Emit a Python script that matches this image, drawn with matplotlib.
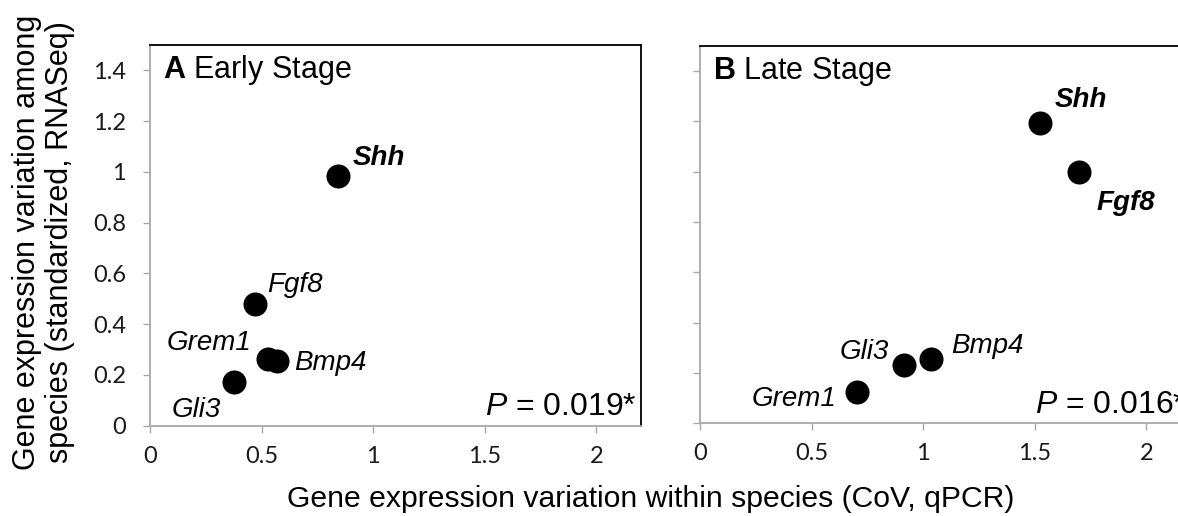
import matplotlib
matplotlib.use("Agg")
import matplotlib.pyplot as plt

# ---- data ----
genes_a = ["Shh", "Fgf8", "Grem1", "Bmp4", "Gli3"]
x_a = [0.843, 0.470, 0.530, 0.567, 0.378]
y_a = [0.982, 0.478, 0.263, 0.253, 0.174]
bold_a = [True, False, False, False, False]

genes_b = ["Shh", "Fgf8", "Grem1", "Gli3", "Bmp4"]
x_b = [1.523, 1.699, 0.704, 0.914, 1.037]
y_b = [1.195, 1.000, 0.126, 0.232, 0.254]
bold_b = [True, True, False, False, False]

xticks = [0, 0.5, 1, 1.5, 2]
xticklabels = ["0", "0.5", "1", "1.5", "2"]
yticks = [0, 0.2, 0.4, 0.6, 0.8, 1.0, 1.2, 1.4]
yticklabels = ["0", "0.2", "0.4", "0.6", "0.8", "1", "1.2", "1.4"]

titles = [("A", "Early Stage"), ("B", "Late Stage")]
pvals = ["0.019*", "0.016*"]

# label offsets in pixels (dx, dy, ha)
offs_a = {"Shh": (15, 11, "left"), "Fgf8": (12, 12, "left"),
          "Grem1": (-17, 9, "right"), "Bmp4": (18, -9, "left"),
          "Gli3": (-13, -35, "right")}
offs_b = {"Shh": (15, 16, "left"), "Fgf8": (17, -38, "left"),
          "Grem1": (-21, -14, "right"), "Gli3": (-15, 6, "right"),
          "Bmp4": (20, 6, "left")}

plt.rcParams["mathtext.fontset"] = "custom"
plt.rcParams["mathtext.rm"] = "Liberation Sans"
plt.rcParams["mathtext.it"] = "Liberation Sans:italic"
plt.rcParams["mathtext.bf"] = "Liberation Sans:bold"

W, H = 1178, 516
fig = plt.figure(figsize=(W / 100, H / 100), dpi=100)

axw = 491 / W
ax_a = fig.add_axes([150 / W, (H - 425.7) / H, axw, 380.7 / H])
ax_b = fig.add_axes([700 / W, (H - 423.3) / H, axw, 377.3 / H])

GREY = "#a8a8a8"
TXT = "Liberation Sans"

for i, (ax, genes, xs, ys, bolds, offs) in enumerate(
        [(ax_a, genes_a, x_a, y_a, bold_a, offs_a),
         (ax_b, genes_b, x_b, y_b, bold_b, offs_b)]):
    ax.set_xlim(0, 2.2)
    ax.set_ylim(0, 1.5)
    ax.scatter(xs, ys, s=300, color="black", zorder=3, linewidths=0)
    for g, x, y, b in zip(genes, xs, ys, bolds):
        dx, dy, ha = offs[g]
        ax.annotate(g, (x, y), xytext=(dx, dy), textcoords="offset pixels",
                    ha=ha, va="baseline", fontsize=20, family=TXT,
                    style="italic", weight="bold" if b else "normal")
    letter, name = titles[i]
    ax.text(0.027, 0.9125, r"$\mathbf{" + letter + "}$ " + name,
            transform=ax.transAxes, fontsize=22, family=TXT,
            ha="left", va="baseline")
    ax.text(0.683, 0.028, r"$P$ = " + pvals[i], transform=ax.transAxes,
            fontsize=23, family=TXT, ha="left", va="baseline")

    for s in ["left", "bottom"]:
        ax.spines[s].set_color(GREY)
        ax.spines[s].set_linewidth(1.3)
    for s in ["top", "right"]:
        ax.spines[s].set_color("black")
        ax.spines[s].set_linewidth(1.3)
    ax.set_xticks(xticks)
    ax.set_xticklabels(xticklabels)
    ax.set_yticks(yticks)
    if i == 0:
        ax.set_yticklabels(yticklabels)
    else:
        ax.set_yticklabels([])
    ax.tick_params(direction="out", length=5.3, width=1.0, color=GREY,
                   labelcolor="#1a1a1a", labelsize=17)
    ax.tick_params(axis="x", pad=9)
    ax.tick_params(axis="y", pad=12)
    for lab in ax.get_xticklabels() + ax.get_yticklabels():
        lab.set_family("Lato")

fig.text(0.552, 0.018, "Gene expression variation within species (CoV, qPCR)",
         ha="center", va="baseline", fontsize=21.7, family=TXT)
fig.text(0.037, 0.531,
         "Gene expression variation among\nspecies (standardized, RNASeq)",
         ha="center", va="center", rotation=90, fontsize=22, family=TXT,
         linespacing=1.15, multialignment="center")

fig.savefig("out.png", dpi=100)
